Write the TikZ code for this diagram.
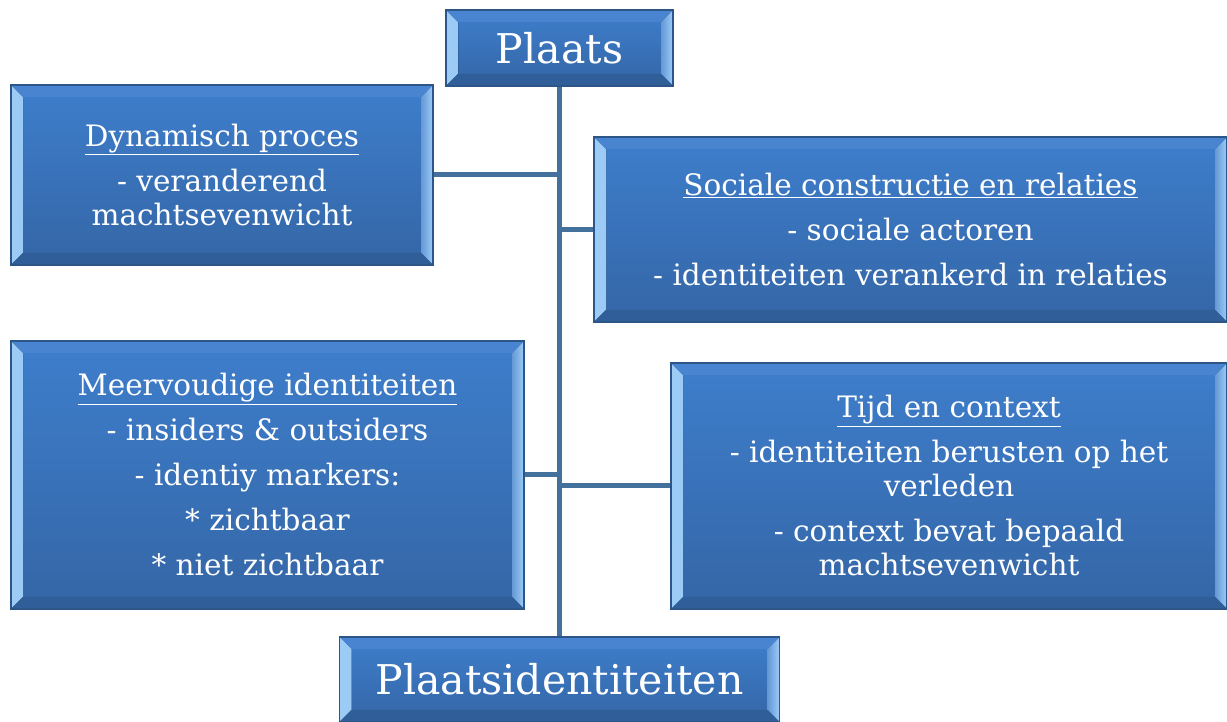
\documentclass[tikz,border=0pt]{standalone}
\usepackage{tikz}
\usepackage{fontspec}
\setmainfont{DejaVu Serif}
\usetikzlibrary{backgrounds,calc}

\definecolor{boxblue}{HTML}{3E7ECC}
\definecolor{boxdark}{HTML}{3466A6}
\definecolor{boxedge}{HTML}{2C5688}
\definecolor{bevellight}{HTML}{9CCCF6}
\definecolor{linkblue}{HTML}{44709C}

\tikzset{
  bevelbox/.style={draw=boxedge, line width=1.5pt, top color=boxblue, bottom color=boxdark,
    inner sep=0pt, text=white, align=center,
    path picture={
      \fill[left color=bevellight, right color=boxblue!80!white]
        (path picture bounding box.south west) -- (path picture bounding box.north west)
        -- ($(path picture bounding box.north west)+(12,-12)$)
        -- ($(path picture bounding box.south west)+(12,12)$) -- cycle;
      \fill[right color=bevellight, left color=boxblue!80!white]
        (path picture bounding box.south east) -- (path picture bounding box.north east)
        -- ($(path picture bounding box.north east)+(-12,-12)$)
        -- ($(path picture bounding box.south east)+(-12,12)$) -- cycle;
      \fill[boxblue!95!white]
        (path picture bounding box.north west) -- (path picture bounding box.north east)
        -- ($(path picture bounding box.north east)+(-12,-12)$)
        -- ($(path picture bounding box.north west)+(12,-12)$) -- cycle;
      \fill[boxdark!92!black]
        (path picture bounding box.south west) -- (path picture bounding box.south east)
        -- ($(path picture bounding box.south east)+(-12,12)$)
        -- ($(path picture bounding box.south west)+(12,12)$) -- cycle;
    }},
  bigtxt/.style={font=\fontsize{41}{46}\selectfont},
  smalltxt/.style={font=\fontsize{29.5}{34}\selectfont},
  link/.style={draw=linkblue, line width=5pt}
}

\begin{document}
\begin{tikzpicture}[x=1pt,y=1pt]
  \useasboundingbox (0,0) rectangle (1227,722);

  \node[bevelbox,bigtxt,minimum width=227pt,minimum height=76pt] (plaats) at (559.5,674) {Plaats};
  \node[bevelbox,bigtxt,minimum width=440pt,minimum height=85pt] (pid) at (559.5,42.5) {Plaatsidentiteiten};

  \node[bevelbox,smalltxt,minimum width=422pt,minimum height=180pt] (dyn) at (222,547)
    {\underline{Dynamisch proces}\\[11pt] - veranderend\\ machtsevenwicht};
  \node[bevelbox,smalltxt,minimum width=633pt,minimum height=185pt] (soc) at (910.5,492.5)
    {\underline{Sociale constructie en relaties}\\[11pt] - sociale actoren\\[11pt] - identiteiten verankerd in relaties};
  \node[bevelbox,smalltxt,minimum width=513pt,minimum height=268pt] (meer) at (267.5,247)
    {\underline{Meervoudige identiteiten}\\[11pt] - insiders \& outsiders\\[11pt] - identiy markers:\\[11pt] * zichtbaar\\[11pt] * niet zichtbaar};
  \node[bevelbox,smalltxt,minimum width=556pt,minimum height=246pt] (tijd) at (949,236)
    {\underline{Tijd en context}\\[11pt] - identiteiten berusten op het\\ verleden\\[11pt] - context bevat bepaald\\ machtsevenwicht};

  \begin{scope}[on background layer]
    \draw[link] (plaats.south) -- (pid.north);
    \draw[link] (dyn.east) -- (dyn.east -| plaats.south);
    \draw[link] (soc.west) -- (soc.west -| plaats.south);
    \draw[link] (meer.east) -- (meer.east -| plaats.south);
    \draw[link] (tijd.west) -- (tijd.west -| plaats.south);
  \end{scope}
\end{tikzpicture}
\end{document}
